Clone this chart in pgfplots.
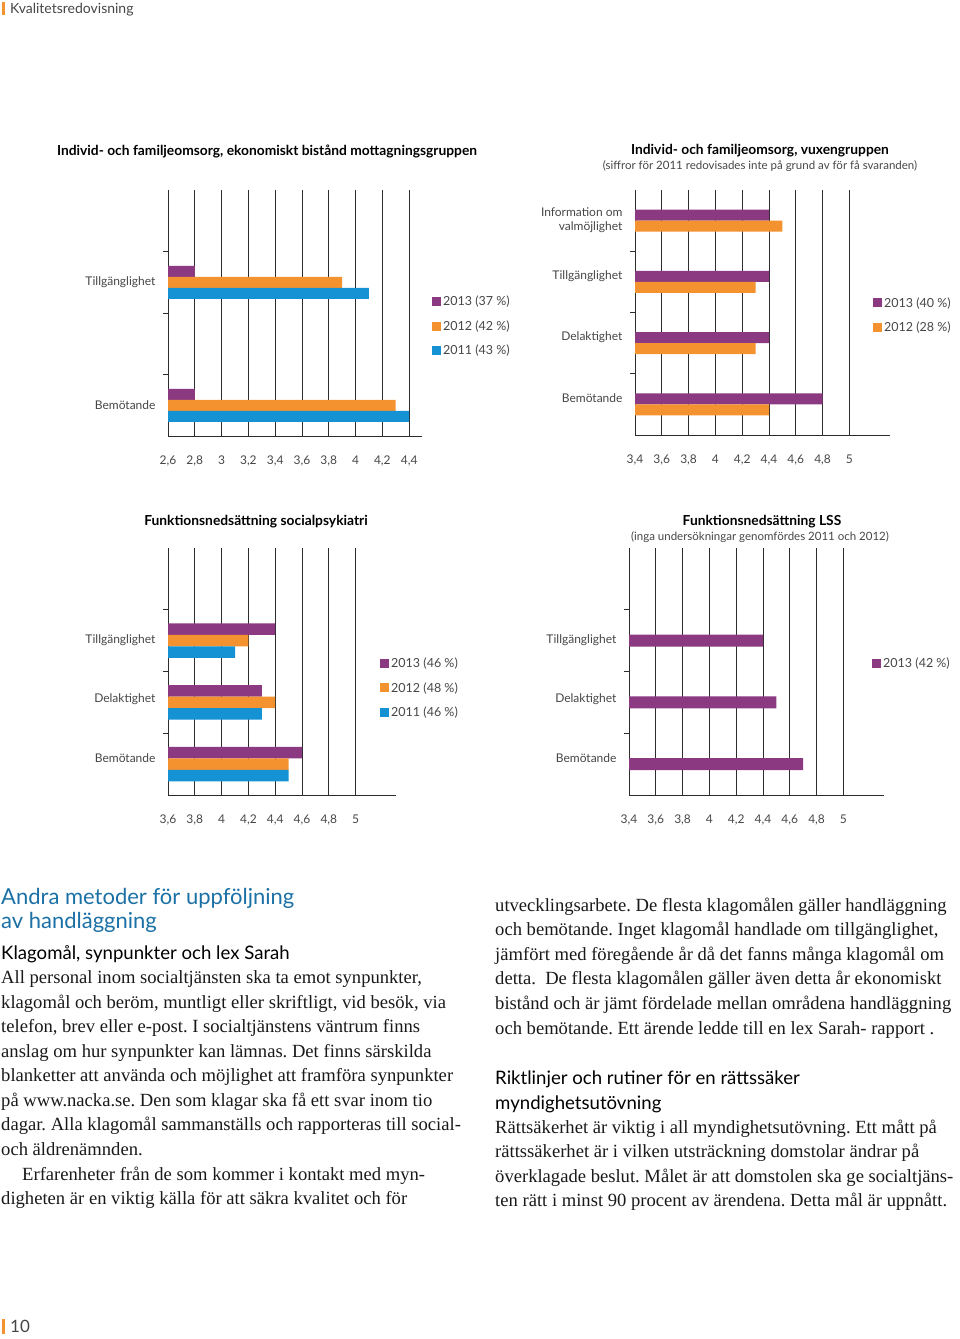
\documentclass[border=0pt]{standalone}
\usepackage{fontspec}
\setmainfont{Liberation Serif}
\newfontfamily\gill{Lato}
\usepackage{pgfplots}
\pgfplotsset{compat=1.18}

\definecolor{p13}{RGB}{139,57,128}
\definecolor{o12}{RGB}{244,146,48}
\definecolor{b11}{RGB}{20,146,212}
\definecolor{lbl}{RGB}{70,70,70}
\definecolor{gridc}{RGB}{45,45,45}
\definecolor{headblue}{RGB}{27,112,165}
\definecolor{bodyc}{RGB}{25,25,25}

\newcommand\chartfont{\gill\fontsize{12}{14}\selectfont}
\newcommand\titlefont{\gill\bfseries\fontsize{13.8}{16}\selectfont}
\newcommand\subfont{\gill\fontsize{11.5}{14}\selectfont}
\newcommand\bodyfont{\frenchspacing\fontsize{18.6}{21}\selectfont}
\newcommand\headfont{\gill\fontsize{18.6}{21}\selectfont}

\pgfplotsset{
  pagechart/.style={
    xbar, scale only axis, axis lines=left,
    axis line style={-, line width=0.9pt, gridc},
    xmajorgrids, grid style={line width=0.9pt, gridc},
    ymin=-0.5, ymax=3.5,
    ytick={0.5,1.5,2.5}, yticklabels={},
    tick align=outside, major tick length=5pt,
    ytick style={line width=0.9pt, gridc},
    xtick style={draw=none},
    extra y ticks={0,1,2,3},
    extra y tick style={tick style={draw=none}, yticklabel style={align=right, xshift=-4pt}},
    tick label style={font=\chartfont, text=lbl},
    xticklabel style={yshift=-11pt},
    /pgf/number format/use comma,
    /pgf/number format/assume math mode=true,
    legend style={draw=none, fill=none, inner sep=0pt, font=\gill\fontsize{12.5}{14}\selectfont, text=lbl,
      row sep=9pt, cells={anchor=west}, anchor=north west},
    legend image code/.code={\fill[##1] (0pt,-4.5pt) rectangle (9pt,4.5pt);},
  },
}

\begin{document}
\begin{tikzpicture}
\useasboundingbox (0pt,0pt) rectangle (960pt,-1339pt);

% page header and footer
\fill[o12] (2pt,-2pt) rectangle (5pt,-15pt);
\node[anchor=base west, inner sep=0pt, text=lbl] at (10pt,-13pt) {\gill\fontsize{14}{17}\selectfont Kvalitetsredovisning};
\fill[o12] (2pt,-1319pt) rectangle (5pt,-1334pt);
\node[anchor=base west, inner sep=0pt, text=lbl] at (10pt,-1332pt) {\gill\fontsize{17}{20}\selectfont 10};

% chart titles
\node[text=black] at (267pt,-151pt) {\titlefont Individ- och familjeomsorg, ekonomiskt bistånd mottagningsgruppen};
\node[text=black] at (760pt,-151pt) {\titlefont Individ- och familjeomsorg, vuxengruppen};
\node[text=lbl] at (760pt,-166pt) {\subfont (siffror för 2011 redovisades inte på grund av för få svaranden)};
\node[text=black] at (256pt,-522pt) {\titlefont Funktionsnedsättning socialpsykiatri};
\node[text=black] at (762pt,-522pt) {\titlefont Funktionsnedsättning LSS};
\node[text=lbl] at (760pt,-537pt) {\subfont (inga undersökningar genomfördes 2011 och 2012)};

% chart 1
\begin{axis}[pagechart, at={(168pt,-436pt)}, anchor=south west,
  width=254pt, height=246pt, xmin=2.6, xmax=4.496, bar width=11pt,
  xtick={2.6,2.8,3,3.2,3.4,3.6,3.8,4,4.2,4.4},
  extra y tick labels={Bemötande,{},Tillgänglighet,{}},
  legend style={at={(1.039,0.577)}}]
\addplot[fill=p13, draw=none, bar shift=11pt] coordinates {(2.8,2) (2.8,0)};
\addplot[fill=o12, draw=none, bar shift=0pt] coordinates {(3.9,2) (4.3,0)};
\addplot[fill=b11, draw=none, bar shift=-11pt] coordinates {(4.1,2) (4.4,0)};
\legend{2013 (37 \%), 2012 (42 \%), 2011 (43 \%)}
\end{axis}

% chart 2
\begin{axis}[pagechart, at={(635pt,-435pt)}, anchor=south west,
  width=255pt, height=245pt, xmin=3.4, xmax=5.303, bar width=11pt,
  xtick={3.4,3.6,3.8,4,4.2,4.4,4.6,4.8,5},
  extra y ticks={0.1,1.1,2.1,3},
  extra y tick labels={Bemötande,Delaktighet,Tillgänglighet,{Information om\\valmöjlighet}},
  legend style={at={(0.933,0.571)}}]
\addplot[fill=p13, draw=none, bar shift=5.5pt] coordinates {(4.4,3) (4.4,2) (4.4,1) (4.8,0)};
\addplot[fill=o12, draw=none, bar shift=-5.5pt] coordinates {(4.5,3) (4.3,2) (4.3,1) (4.4,0)};
\legend{2013 (40 \%), 2012 (28 \%)}
\end{axis}

% chart 3
\begin{axis}[pagechart, at={(168pt,-795pt)}, anchor=south west,
  width=228pt, height=247pt, xmin=3.6, xmax=5.301, bar width=11.5pt,
  xtick={3.6,3.8,4,4.2,4.4,4.6,4.8,5},
  extra y ticks={0.1,1.05,2,3},
  extra y tick labels={Bemötande,Delaktighet,Tillgänglighet,{}},
  legend style={at={(0.930,0.563)}}]
\addplot[fill=p13, draw=none, bar shift=11.5pt] coordinates {(4.4,2) (4.3,1) (4.6,0)};
\addplot[fill=o12, draw=none, bar shift=0pt] coordinates {(4.2,2) (4.4,1) (4.5,0)};
\addplot[fill=b11, draw=none, bar shift=-11.5pt] coordinates {(4.1,2) (4.3,1) (4.5,0)};
\legend{2013 (46 \%), 2012 (48 \%), 2011 (46 \%)}
\end{axis}

% chart 4
\begin{axis}[pagechart, at={(629pt,-795pt)}, anchor=south west,
  width=255pt, height=247pt, xmin=3.4, xmax=5.303, bar width=12pt,
  xtick={3.4,3.6,3.8,4,4.2,4.4,4.6,4.8,5},
  extra y ticks={0.1,1.05,2,3},
  extra y tick labels={Bemötande,Delaktighet,Tillgänglighet,{}},
  legend style={at={(0.953,0.563)}}]
\addplot[fill=p13, draw=none, bar shift=0pt] coordinates {(4.4,2) (4.5,1) (4.7,0)};
\legend{2013 (42 \%)}
\end{axis}

% text, left column
\begin{scope}[every node/.style={anchor=base west, inner sep=0pt}]
\node[text=headblue] at (1pt,-904pt) {\gill\fontsize{22}{25}\selectfont Andra metoder för uppföljning};
\node[text=headblue] at (1pt,-928pt) {\gill\fontsize{22}{25}\selectfont av handläggning};
\node[text=black] at (1pt,-959pt) {\headfont Klagomål, synpunkter och lex Sarah};
\node[text=bodyc] at (1pt,-983pt) {\bodyfont All personal inom socialtjänsten ska ta emot synpunkter,};
\node[text=bodyc] at (1pt,-1008pt) {\bodyfont klagomål och beröm, muntligt eller skriftligt, vid besök, via};
\node[text=bodyc] at (1pt,-1032pt) {\bodyfont telefon, brev eller e-post. I socialtjänstens väntrum finns};
\node[text=bodyc] at (1pt,-1057pt) {\bodyfont anslag om hur synpunkter kan lämnas. Det finns särskilda};
\node[text=bodyc] at (1pt,-1081pt) {\bodyfont blanketter att använda och möjlighet att framföra synpunkter};
\node[text=bodyc] at (1pt,-1106pt) {\bodyfont på www.nacka.se. Den som klagar ska få ett svar inom tio};
\node[text=bodyc] at (1pt,-1130pt) {\bodyfont dagar. Alla klagomål sammanställs och rapporteras till social-};
\node[text=bodyc] at (1pt,-1155pt) {\bodyfont och äldrenämnden.};
\node[text=bodyc] at (22pt,-1180pt) {\bodyfont Erfarenheter från de som kommer i kontakt med myn-};
\node[text=bodyc] at (1pt,-1204pt) {\bodyfont digheten är en viktig källa för att säkra kvalitet och för};

% text, right column
\node[text=bodyc] at (495pt,-911pt) {\bodyfont utvecklingsarbete. De flesta klagomålen gäller handläggning};
\node[text=bodyc] at (495pt,-935pt) {\bodyfont och bemötande. Inget klagomål handlade om tillgänglighet,};
\node[text=bodyc] at (495pt,-960pt) {\bodyfont jämfört med föregående år då det fanns många klagomål om};
\node[text=bodyc] at (495pt,-984pt) {\bodyfont detta.\ \ De flesta klagomålen gäller även detta år ekonomiskt};
\node[text=bodyc] at (495pt,-1009pt) {\bodyfont bistånd och är jämt fördelade mellan områdena handläggning};
\node[text=bodyc] at (495pt,-1034pt) {\bodyfont och bemötande. Ett ärende ledde till en lex Sarah- rapport .};
\node[text=black] at (495pt,-1084pt) {\headfont Riktlinjer och rutiner för en rättssäker};
\node[text=black] at (495pt,-1109pt) {\headfont myndighetsutövning};
\node[text=bodyc] at (495pt,-1133pt) {\bodyfont Rättsäkerhet är viktig i all myndighetsutövning. Ett mått på};
\node[text=bodyc] at (495pt,-1157pt) {\bodyfont rättssäkerhet är i vilken utsträckning domstolar ändrar på};
\node[text=bodyc] at (495pt,-1182pt) {\bodyfont överklagade beslut. Målet är att domstolen ska ge socialtjäns-};
\node[text=bodyc] at (495pt,-1206pt) {\bodyfont ten rätt i minst 90 procent av ärendena. Detta mål är uppnått.};
\end{scope}
\end{tikzpicture}
\end{document}
